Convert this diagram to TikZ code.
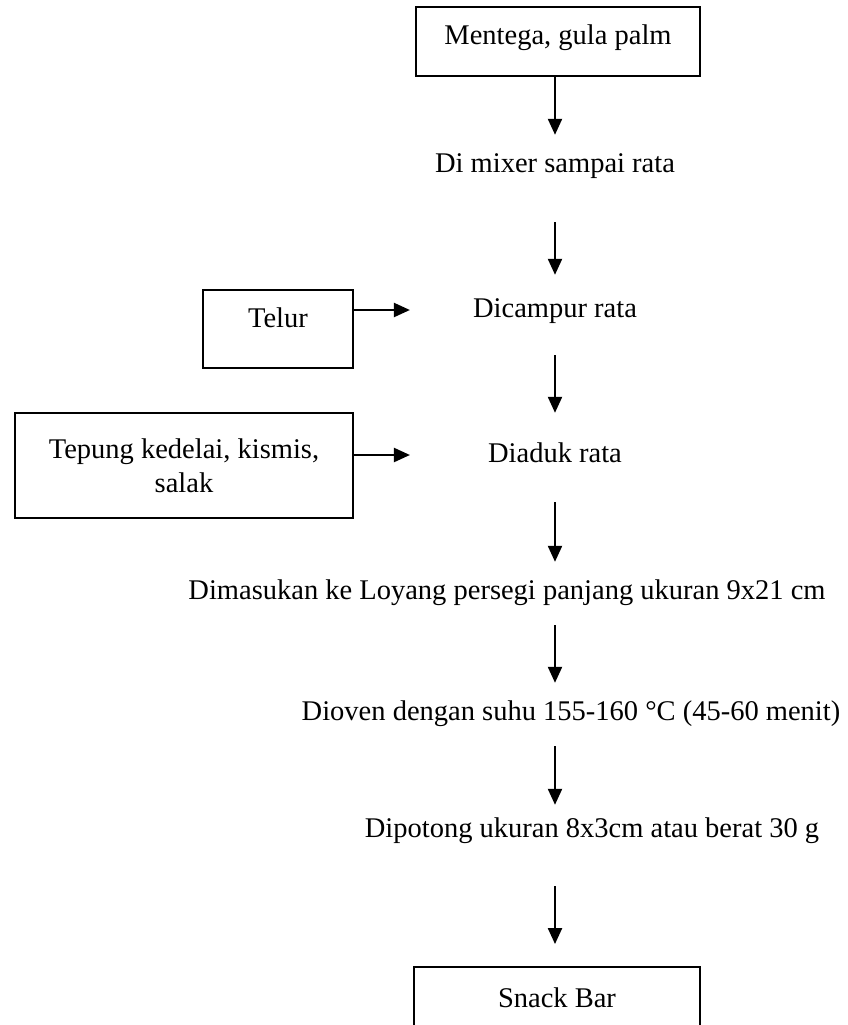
\documentclass[tikz,border=0pt]{standalone}
\usepackage{fontspec}
\setmainfont{Liberation Serif}
\usetikzlibrary{arrows.meta}

\begin{document}
\begin{tikzpicture}[x=1pt, y=-1pt,
	every node/.style={font=\fontsize{28.5}{34}\selectfont},
	box/.style={draw, line width=1.9pt, inner sep=0pt, align=center},
	stepnode/.style={inner sep=0pt, text height=20pt, text depth=6pt},
	flow/.style={line width=2.2pt, -{Triangle[length=16pt, width=14pt]}}]
	\useasboundingbox (0,0) rectangle (848,1025);
	\clip (0,0) rectangle (848,1025);
	\coordinate (spine) at (555,0);

	% main column
	\node[box, minimum width=284pt, minimum height=69pt, text height=20pt, text depth=14pt] (bahan) at (558,41.5) {Mentega, gula palm};
	\node[stepnode] (mixer) at (555,165) {Di mixer sampai rata};
	\node[stepnode] (campur) at (555,310) {Dicampur rata};
	\node[stepnode] (aduk) at (555,455) {Diaduk rata};
	\node[stepnode] (loyang) at (507,592) {Dimasukan ke Loyang persegi panjang ukuran 9x21 cm};
	\node[stepnode] (oven) at (571,713) {Dioven dengan suhu 155-160 °C (45-60 menit)};
	\node[stepnode] (potong) at (592,830) {Dipotong ukuran 8x3cm atau berat 30 g};
	\node[box, minimum width=286pt, minimum height=70pt, text height=20pt, text depth=10pt] (snack) at (557,1002) {Snack Bar};

	% added ingredients
	\node[box, minimum width=150pt, minimum height=78pt, text height=20pt, text depth=23pt] (telur) at (278,329) {Telur};
	\node[box, minimum width=338pt, minimum height=105pt] (tepung) at (184,465.5) {Tepung kedelai, kismis,\\ salak};

	\draw[flow, shorten >=17pt] (bahan.south -| spine) -- (mixer.north -| spine);
	\draw[flow, shorten <=44pt, shorten >=22pt] (mixer.south -| spine) -- (campur.north -| spine);
	\draw[flow, shorten <=32pt, shorten >=29pt] (campur.south -| spine) -- (aduk.north -| spine);
	\draw[flow, shorten <=34pt, shorten >=17pt] (aduk.south -| spine) -- (loyang.north -| spine);
	\draw[flow, shorten <=20pt, shorten >=17pt] (loyang.south -| spine) -- (oven.north -| spine);
	\draw[flow, shorten <=20pt, shorten >=12pt] (oven.south -| spine) -- (potong.north -| spine);
	\draw[flow, shorten <=43pt, shorten >=22pt] (potong.south -| spine) -- (snack.north -| spine);

	\draw[flow, shorten >=63pt] (telur.east |- campur.west) -- (campur.west);
	\draw[flow, shorten >=78pt] (tepung.east |- aduk.west) -- (aduk.west);
\end{tikzpicture}
\end{document}
